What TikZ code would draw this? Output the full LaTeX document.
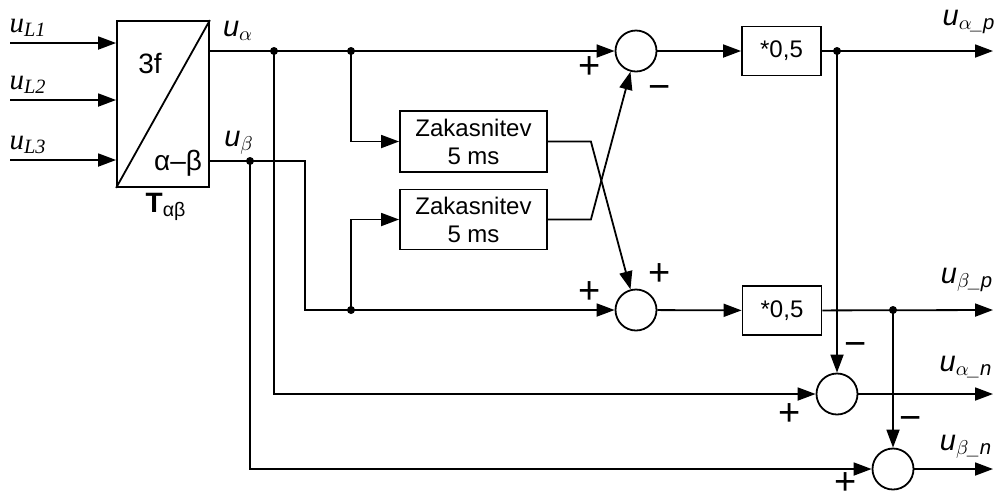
\documentclass[tikz,border=0pt]{standalone}
\usepackage{amsmath}
\usepackage{fontspec}
\setmainfont{Liberation Sans}
\newfontfamily\serifit{Liberation Serif}
\usetikzlibrary{arrows.meta}
\usetikzlibrary{positioning}

\newcommand{\uL}[1]{{\serifit\itshape u}$_{\text{\serifit\itshape #1}}$}
\newcommand{\ug}[1]{{\itshape u}$_{#1}$}
\newcommand{\uo}[2]{{\itshape u}$_{#1\text{\itshape \_#2}}$}

\begin{document}
\begin{tikzpicture}[x=0.5pt, y=-0.5pt, line width=0.9pt,
    >={Triangle[length=9pt,width=6.5pt]},
    blok/.style={draw, rectangle, inner sep=0pt, align=center, font=\fontsize{12}{14}\selectfont},
    vsota/.style={draw, circle, minimum size=20.5pt, inner sep=0pt},
    pika/.style={circle, fill, inner sep=0pt, minimum size=4pt},
    znak/.style={font=\fontsize{19}{19}\selectfont, inner sep=0pt},
    oznaka/.style={font=\fontsize{14.5}{14.5}\selectfont}]
    \useasboundingbox (0,0) rectangle (994,495);

    % transformacija 3f -> alfa-beta
    \node[blok, minimum width=46pt, minimum height=83pt] (trafo) at (163,104) {};
    \draw (trafo.south west) -- (trafo.north east);
    \node[font=\fontsize{14}{14}\selectfont] (trif) at (150,63) {3f};
    \node[font=\fontsize{14}{14}\selectfont] (ab) at (178,163) {α–β};
    \node[font=\fontsize{14}{14}\selectfont] (tab) at (166,207) {\textbf{T}\textsubscript{αβ}};

    \foreach \y/\i in {43/1, 100/2, 160/3} {
        \coordinate (in\i) at (10,\y);
        \draw[->] (in\i) -- (in\i -| trafo.west);
        \node[oznaka] (lbl\i) at (28,\y-15) {\uL{L\i}};
    }
    \node[oznaka] (lua) at (238,31) {\ug{\alpha}};
    \node[oznaka] (lub) at (239,143) {\ug{\beta}};

    % bloki
    \node[blok, minimum width=73.5pt, minimum height=30.5pt] (delay1) at (473.5,141.5) {Zakasnitev\\5 ms};
    \node[blok, minimum width=73.5pt, minimum height=30pt] (delay2) at (473.5,219.5) {Zakasnitev\\5 ms};
    \node[vsota] (sum1) at (636,51) {};
    \node[vsota] (sum2) at (636,310) {};
    \node[blok, minimum width=39.5pt, minimum height=24.5pt] (gain1) at (781.5,51) {*0,5};
    \node[blok, minimum width=39.5pt, minimum height=24.5pt] (gain2) at (782,310.5) {*0,5};
    \node[vsota] (sum3) at (837,394) {};
    \node[vsota] (sum4) at (893,469) {};

    % razcepi
    \node[pika] (ja1) at (274,51) {};
    \node[pika] (ja2) at (351,51) {};
    \node[pika] (jb1) at (250,161) {};
    \node[pika] (jb2) at (351,310) {};
    \node[pika] (jp1) at (837,51) {};
    \node[pika] (jp2) at (893,310) {};
    \coordinate (kb) at (305,161);

    % povezave
    \draw[->] (trafo.east |- sum1) -- (sum1);
    \draw[->] (ja2.center) |- (delay1.west);
    \draw[->] (trafo.east |- jb1) -- (kb) |- (sum2);
    \draw[->] (jb2.center) |- (delay2.west);
    \draw[->] (delay1.east) -- ++(43,0) -- (sum2);
    \draw[->] (delay2.east) -- ++(43,0) -- (sum1);
    \draw[->] (sum1) -- (gain1);
    \draw[->] (sum2) -- (gain2);

    \coordinate (izap) at (993,51);
    \coordinate (izbp) at (993,310);
    \coordinate (izan) at (993,394);
    \coordinate (izbn) at (993,469);
    \draw[->] (gain1) -- (izap);
    \draw[->] (gain2) -- (izbp);
    \draw[->] (jp1.center) -- (sum3);
    \draw[->] (jp2.center) -- (sum4);
    \draw[->] (ja1.center) |- (sum3);
    \draw[->] (jb1.center) |- (sum4);
    \draw[->] (sum3) -- (izan);
    \draw[->] (sum4) -- (izbn);

    % predznaki
    \node[znak] (p1) at (590,68) {+};
    \node[znak] (m1) at (660,92) {−};
    \node[znak] (p2a) at (660,275) {+};
    \node[znak] (p2b) at (590,293) {+};
    \node[znak] (m3) at (856,349) {−};
    \node[znak] (p3) at (790,415) {+};
    \node[znak] (m4) at (911,423) {−};
    \node[znak] (p4) at (846,484) {+};

    % izhodi
    \node[oznaka] (lap) at (969,22) {\uo{\alpha}{p}};
    \node[oznaka] (lbp) at (967,280) {\uo{\beta}{p}};
    \node[oznaka] (lan) at (966,367) {\uo{\alpha}{n}};
    \node[oznaka] (lbn) at (966,447) {\uo{\beta}{n}};
\end{tikzpicture}
\end{document}
